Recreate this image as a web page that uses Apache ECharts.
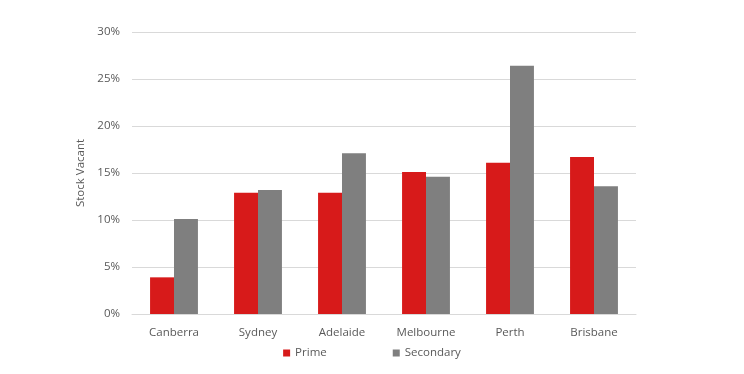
<!DOCTYPE html>
<html><head><meta charset="utf-8">
<script src="https://cdn.jsdelivr.net/npm/echarts@6/dist/echarts.min.js"></script>
<style>html,body{margin:0;padding:0;background:#fff}#c{width:744px;height:374px}</style>
</head><body><div id="c"></div>
<script>
const categories = ["Canberra","Sydney","Adelaide","Melbourne","Perth","Brisbane"];
const prime = [3.9, 12.9, 12.9, 15.1, 16.1, 16.7];
const secondary = [10.1, 13.2, 17.1, 14.6, 26.4, 13.6];
const yTicks = [0, 5, 10, 15, 20, 25, 30];
const FONT = "Open Sans";
const chart = echarts.init(document.getElementById('c'), null, {renderer:'canvas'});
chart.setOption({
  animation:false,
  textStyle:{fontFamily:FONT},
  grid:{left:132, right:108, top:32, bottom:60},
  legend:{
    data:['Prime','Secondary'], bottom:10, left:'center',
    itemWidth:7, itemHeight:7, itemGap:66, icon:'rect',
    textStyle:{fontFamily:FONT, fontSize:11.5, color:'#595959'}
  },
  xAxis:{
    type:'category', data:categories,
    axisLine:{lineStyle:{color:'#d9d9d9'}}, axisTick:{show:false},
    axisLabel:{fontFamily:FONT, fontSize:11.5, color:'#595959', margin:13}
  },
  yAxis:{
    type:'value', min:yTicks[0], max:yTicks[yTicks.length-1], interval:5,
    name:'Stock Vacant', nameLocation:'middle', nameGap:45, nameRotate:90,
    nameTextStyle:{fontFamily:FONT, fontSize:11.5, color:'#595959'},
    axisLine:{show:false}, axisTick:{show:false},
    splitLine:{lineStyle:{color:'#d9d9d9'}},
    axisLabel:{fontFamily:FONT, fontSize:11.5, color:'#595959', margin:12, formatter:v=>v+'%'}
  },
  series:[
    {name:'Prime', type:'bar', data:prime, itemStyle:{color:'#d71a1a'}, barGap:'0%', barCategoryGap:'43%'},
    {name:'Secondary', type:'bar', data:secondary, itemStyle:{color:'#7f7f7f'}, barGap:'0%', barCategoryGap:'43%'}
  ]
});
</script></body></html>
